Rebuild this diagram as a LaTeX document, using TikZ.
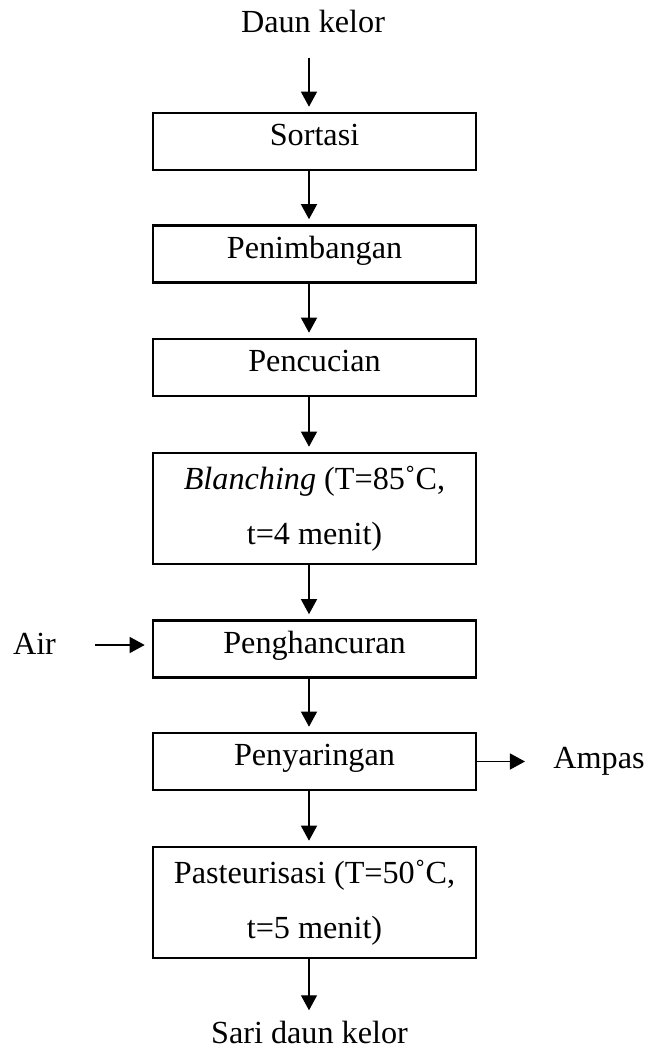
\documentclass[tikz,border=0pt]{standalone}
\usepackage{fontspec}
\setmainfont{Liberation Serif}
\usetikzlibrary{arrows.meta}
\tikzset{
  stepbox/.style={draw, line width=1.3pt, minimum width=161.5pt, minimum height=28.5pt, inner sep=0pt,
    font=\fontsize{16.1}{27.5}\selectfont, text height=0.62em, text depth=0.2em},
  tallbox/.style={draw, line width=1.3pt, minimum width=161.5pt, minimum height=55.5pt, inner sep=0pt,
    align=center, font=\fontsize{16.1}{27.5}\selectfont},
  lbl/.style={inner sep=0pt, anchor=base, font=\fontsize{16.1}{18}\selectfont},
  arr/.style={line width=0.65pt, -{Triangle[length=7.5pt,width=8pt]}, shorten >=2.5pt}
}
\begin{document}
\begin{tikzpicture}[x=0.5pt,y=-0.5pt]
\useasboundingbox (0,0) rectangle (649,1050);
\coordinate (ax) at (309,0);
\node[lbl] (dk) at (313,32) {Daun kelor};
\node[stepbox] (s1) at (314.5,141.5) {Sortasi};
\node[stepbox] (s2) at (314.5,254) {Penimbangan};
\node[stepbox] (s3) at (314.5,367.5) {Pencucian};
\node[tallbox] (s4) at (314.5,508.5) {\textit{Blanching} (T=85˚C,\\ t=4 menit)};
\node[stepbox] (s5) at (314.5,649) {Penghancuran};
\node[stepbox] (s6) at (314.5,761.5) {Penyaringan};
\node[tallbox] (s7) at (314.5,902.5) {Pasteurisasi (T=50˚C,\\ t=5 menit)};
\node[lbl] (sari) at (309.5,1043) {Sari daun kelor};
\node[lbl] (air) at (34.5,654) {Air};
\node[lbl] (ampas) at (599,768) {Ampas};

\draw[arr, shorten <=12.5pt] (dk.south -| ax) -- (s1.north -| ax);
\draw[arr] (s1.south -| ax) -- (s2.north -| ax);
\draw[arr] (s2.south -| ax) -- (s3.north -| ax);
\draw[arr] (s3.south -| ax) -- (s4.north -| ax);
\draw[arr] (s4.south -| ax) -- (s5.north -| ax);
\draw[arr] (s5.south -| ax) -- (s6.north -| ax);
\draw[arr] (s6.south -| ax) -- (s7.north -| ax);
\draw[arr, shorten >=5pt] (s7.south -| ax) -- (sari.north -| ax);
\draw[arr, shorten <=19.5pt, shorten >=3.5pt] (air.east |- 0,645) -- (s5.west |- 0,645);
\draw[arr, shorten >=14pt] (s6.east) -- (ampas.west |- s6.east);
\end{tikzpicture}
\end{document}
